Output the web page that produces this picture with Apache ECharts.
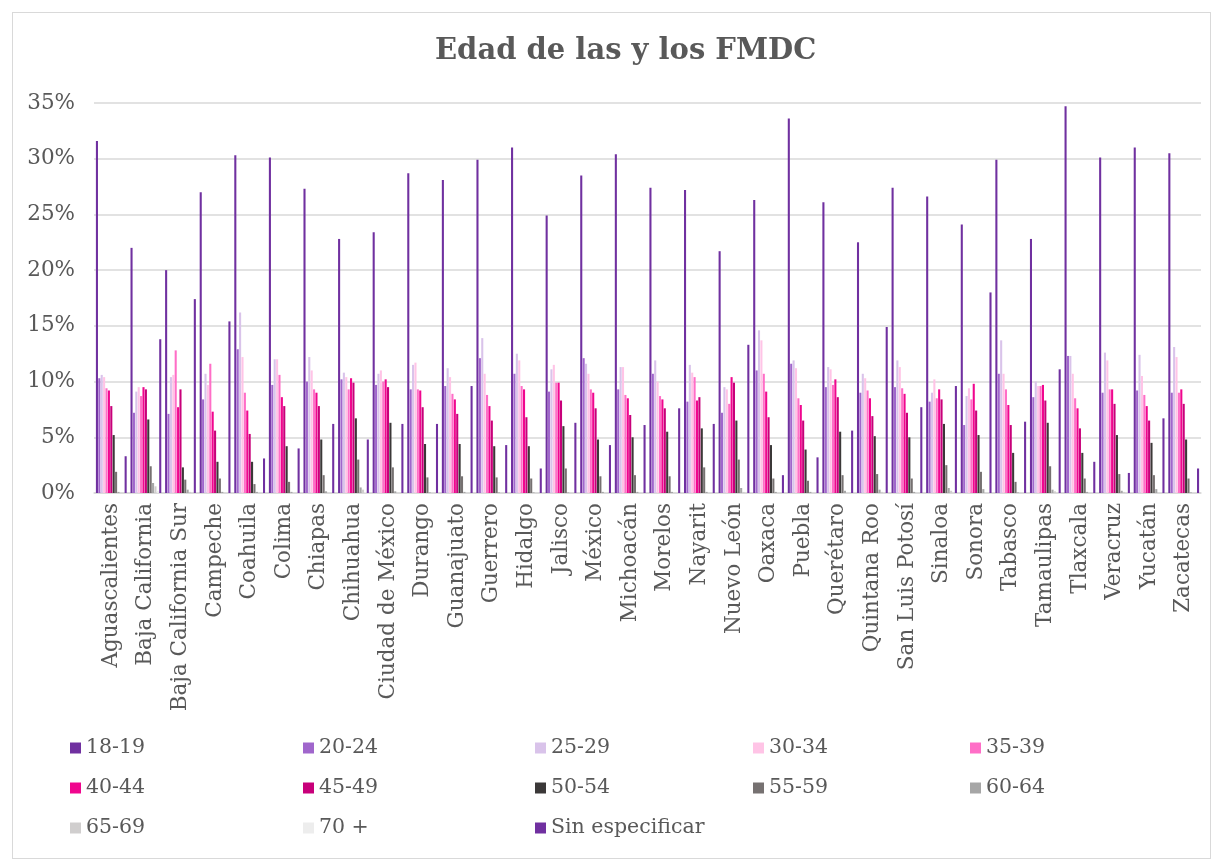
<!DOCTYPE html>
<html>
<head>
<meta charset="utf-8">
<script src="https://cdn.jsdelivr.net/npm/echarts@6/dist/echarts.min.js"></script>
<style>
  html, body { margin: 0; padding: 0; background: #fff; }
  #frame { position: absolute; left: 12px; top: 12px; width: 1197px; height: 845px; border: 1px solid #d9d9d9; }
  #chart { position: absolute; left: 0; top: 0; width: 1219px; height: 861px; }
</style>
</head>
<body>
<div id="frame"></div>
<div id="chart"></div>
<script>
// estados
const estados = ['Aguascalientes', 'Baja California', 'Baja California Sur', 'Campeche', 'Coahuila', 'Colima',
  'Chiapas', 'Chihuahua', 'Ciudad de México', 'Durango', 'Guanajuato', 'Guerrero', 'Hidalgo', 'Jalisco',
  'México', 'Michoacán', 'Morelos', 'Nayarit', 'Nuevo León', 'Oaxaca', 'Puebla', 'Querétaro', 'Quintana Roo',
  'San Luis Potosí', 'Sinaloa', 'Sonora', 'Tabasco', 'Tamaulipas', 'Tlaxcala', 'Veracruz', 'Yucatán', 'Zacatecas']

// porcentajes por grupo de edad
const e18_19 = [31.6, 22.0, 20.0, 27.0, 30.3, 30.1, 27.3, 22.8, 23.4, 28.7, 28.1, 29.9, 31.0, 24.9, 28.5, 30.4, 27.4, 27.2, 21.7, 26.3, 33.6, 26.1, 22.5, 27.4, 26.6, 24.1, 29.9, 22.8, 34.7, 30.1, 31.0, 30.5]
const e20_24 = [10.3, 7.2, 7.1, 8.4, 12.9, 9.7, 10.0, 10.2, 9.7, 9.3, 9.6, 12.1, 10.7, 9.1, 12.1, 9.3, 10.7, 8.2, 7.2, 11.0, 11.6, 9.5, 9.0, 9.5, 8.2, 6.1, 10.7, 8.6, 12.3, 9.0, 9.2, 9.0]
const e25_29 = [10.6, 9.1, 10.4, 10.7, 16.2, 12.0, 12.2, 10.8, 10.7, 11.5, 11.2, 13.9, 12.5, 11.1, 11.6, 11.3, 11.9, 11.5, 9.5, 14.6, 11.9, 11.3, 10.7, 11.9, 9.0, 8.7, 13.7, 10.0, 12.3, 12.6, 12.4, 13.1]
const e30_34 = [10.4, 9.5, 10.6, 9.7, 12.2, 12.0, 11.0, 10.4, 11.0, 11.7, 10.4, 10.7, 11.9, 11.5, 10.7, 11.3, 10.0, 10.8, 9.3, 13.7, 11.2, 11.1, 10.3, 11.3, 10.2, 9.4, 10.7, 9.6, 10.7, 11.9, 10.5, 12.2]
const e35_39 = [9.4, 8.7, 12.8, 11.6, 9.0, 10.6, 9.3, 9.3, 10.0, 9.3, 8.9, 8.8, 9.6, 9.9, 9.3, 8.8, 8.7, 10.4, 8.0, 10.7, 8.5, 9.7, 9.2, 9.4, 8.5, 8.4, 9.3, 9.6, 8.5, 9.3, 8.8, 9.0]
const e40_44 = [9.2, 9.5, 7.7, 7.3, 7.4, 8.6, 9.0, 10.3, 10.2, 9.2, 8.4, 7.8, 9.3, 9.9, 9.0, 8.5, 8.4, 8.3, 10.4, 9.1, 7.9, 10.2, 8.5, 8.9, 9.3, 9.8, 7.9, 9.7, 7.6, 9.3, 7.8, 9.3]
const e45_49 = [7.8, 9.3, 9.3, 5.6, 5.3, 7.8, 7.8, 9.9, 9.5, 7.7, 7.1, 6.5, 6.8, 8.3, 7.6, 7.0, 7.6, 8.6, 9.9, 6.8, 6.5, 8.6, 6.9, 7.2, 8.4, 7.4, 6.1, 8.3, 5.8, 8.0, 6.5, 8.0]
const e50_54 = [5.2, 6.6, 2.3, 2.8, 2.8, 4.2, 4.8, 6.7, 6.3, 4.4, 4.4, 4.2, 4.2, 6.0, 4.8, 5.0, 5.5, 5.8, 6.5, 4.3, 3.9, 5.5, 5.1, 5.0, 6.2, 5.2, 3.6, 6.3, 3.6, 5.2, 4.5, 4.8]
const e55_59 = [1.9, 2.4, 1.2, 1.3, 0.8, 1.0, 1.6, 3.0, 2.3, 1.4, 1.5, 1.4, 1.3, 2.2, 1.5, 1.6, 1.5, 2.3, 3.0, 1.3, 1.1, 1.6, 1.7, 1.3, 2.5, 1.9, 1.0, 2.4, 1.3, 1.7, 1.6, 1.3]
const e60_64 = [0.1, 0.9, 0.3, 0.1, 0.1, 0.1, 0.15, 0.5, 0.15, 0.05, 0.1, 0.05, 0.05, 0.05, 0.1, 0.1, 0.1, 0.1, 0.45, 0.1, 0.1, 0.2, 0.3, 0.1, 0.45, 0.35, 0.05, 0.3, 0.1, 0.2, 0.35, 0.05]
const e65_69 = [0, 0.6, 0.1, 0, 0, 0, 0, 0.3, 0, 0, 0, 0, 0, 0, 0, 0, 0, 0, 0.1, 0, 0, 0, 0.1, 0, 0.2, 0, 0, 0.15, 0, 0.1, 0, 0]
const e70 = [0, 0.2, 0, 0, 0, 0, 0, 0.1, 0, 0, 0, 0, 0, 0, 0, 0, 0, 0, 0, 0, 0, 0, 0, 0, 0, 0, 0, 0, 0, 0, 0, 0]
const sinEsp = [3.3, 13.8, 17.4, 15.4, 3.1, 4.0, 6.2, 4.8, 6.2, 6.2, 9.6, 4.3, 2.2, 6.3, 4.3, 6.1, 7.6, 6.2, 13.3, 1.6, 3.2, 5.6, 14.9, 7.7, 9.6, 18.0, 6.4, 11.1, 2.8, 1.8, 6.7, 2.2]

const grupos = ['18-19', '20-24', '25-29', '30-34', '35-39', '40-44', '45-49', '50-54', '55-59', '60-64', '65-69', '70 +', 'Sin especificar']
const valores = [e18_19, e20_24, e25_29, e30_34, e35_39, e40_44, e45_49, e50_54, e55_59, e60_64, e65_69, e70, sinEsp]
const colores = ['#7030A0', '#A066CC', '#D9C3EA', '#FFC4E6', '#FF6EC7', '#F0068E', '#C8007A', '#3B3838', '#767171', '#A6A6A6', '#D0CECE', '#EDEDED', '#7030A0']

const fuente = 'DejaVu Serif'
const gris = '#595959'

// leyenda en 5 columnas
const colX = [70, 303, 535, 753, 970]
const legends = colX.map((x, c) => ({
    orient: 'vertical',
    left: x,
    top: 737,
    padding: 0,
    icon: 'rect',
    itemWidth: 11,
    itemHeight: 11,
    itemGap: 18,
    data: grupos.filter((g, i) => i % 5 === c),
    textStyle: { fontFamily: fuente, fontSize: 20.5, color: gris, lineHeight: 22 }
}))

const chart = echarts.init(document.getElementById('chart'))
chart.setOption({
    animation: false,
    title: {
        text: 'Edad de las y los FMDC',
        left: 430,
        top: 32,
        textStyle: { fontFamily: fuente, fontSize: 29, fontWeight: 'bold', color: gris }
    },
    legend: legends,
    grid: { left: 94, right: 18, top: 103, bottom: 368 },
    xAxis: {
        type: 'category',
        data: estados,
        axisTick: { show: false },
        axisLine: { lineStyle: { color: '#d9d9d9', width: 1.5 } },
        axisLabel: { rotate: 90, interval: 0, margin: 10, fontFamily: fuente, fontSize: 21.5, color: gris }
    },
    yAxis: {
        type: 'value',
        min: 0,
        max: 35,
        interval: 5,
        axisLabel: { formatter: '{value}%', fontFamily: fuente, fontSize: 21.5, color: gris, margin: 19 },
        splitLine: { lineStyle: { color: '#d9d9d9', width: 1.5 } }
    },
    series: grupos.map((g, i) => ({
        name: g,
        type: 'bar',
        data: valores[i],
        barCategoryGap: '11%',
        barGap: '15%',
        itemStyle: { color: colores[i] }
    }))
})
</script>
</body>
</html>
